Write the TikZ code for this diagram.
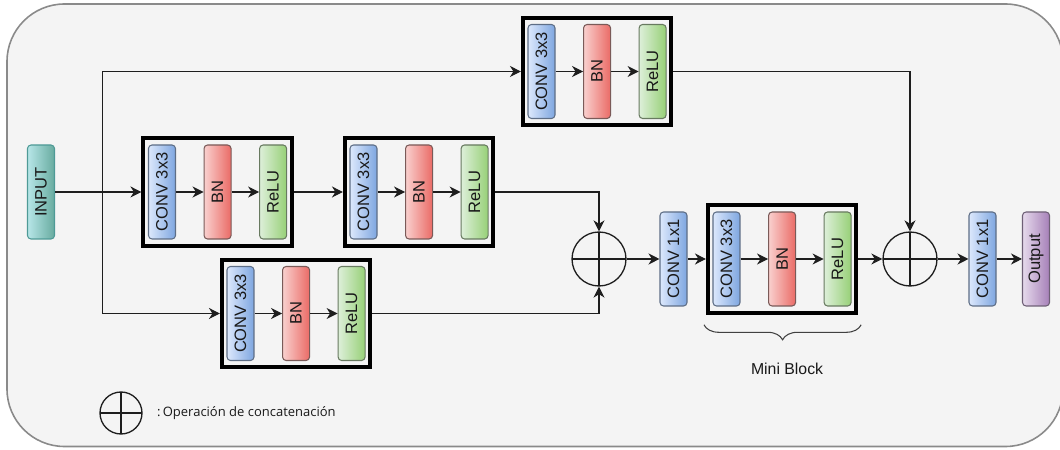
\documentclass[tikz,border=0pt]{standalone}
\usepackage{fontspec}
\setmainfont{Liberation Sans}
\newfontfamily\legendfont{Open Sans}
\usetikzlibrary{arrows.meta,positioning,fit,calc,decorations.pathreplacing}
\definecolor{bgFill}{HTML}{F4F4F4}
\definecolor{bgLine}{HTML}{8A8A8A}
\definecolor{convL}{HTML}{DCE8FC}
\definecolor{convR}{HTML}{7EA6E0}
\definecolor{convD}{HTML}{5E6E86}
\definecolor{bnL}{HTML}{F9D0CE}
\definecolor{bnR}{HTML}{EA6B66}
\definecolor{bnD}{HTML}{7A5A58}
\definecolor{reluL}{HTML}{DDEFD9}
\definecolor{reluR}{HTML}{97D077}
\definecolor{reluD}{HTML}{687A60}
\definecolor{inL}{HTML}{B8E6E8}
\definecolor{inR}{HTML}{67AB9F}
\definecolor{inD}{HTML}{4E9A96}
\definecolor{outL}{HTML}{E6DAEC}
\definecolor{outR}{HTML}{A680B8}
\definecolor{outD}{HTML}{6E5F76}
\definecolor{wire}{HTML}{1E1E1E}
\newcommand{\vtext}[1]{\rotatebox{90}{#1}}
\tikzset{
  layer/.style     ={draw,line width=0.6pt,rounded corners=2pt,
                     minimum width=5.4mm,minimum height=18.8mm,inner sep=0pt,
                     font=\fontsize{9.4}{11}\selectfont,text=black!90},
  conv/.style      ={layer,draw=convD,left color=convL,right color=convR},
  bn/.style        ={layer,draw=bnD,left color=bnL,right color=bnR},
  relu/.style      ={layer,draw=reluD,left color=reluL,right color=reluR},
  inbox/.style     ={layer,draw=inD,left color=inL,right color=inR},
  outbox/.style    ={layer,draw=outD,left color=outL,right color=outR},
  blockframe/.style={draw=black,line width=2.3pt,inner xsep=0.9mm,
                     inner ysep=1.25mm,fit=#1},
  flow/.style      ={-{Stealth[length=2.2mm,width=2.2mm,inset=0.7mm]},wire,
                     line width=0.6pt},
  cat/.style       ={circle,draw=wire,line width=0.75pt,minimum size=10.8mm,
                     inner sep=0pt,
                     path picture={\draw[wire,line width=0.75pt]
                       (path picture bounding box.north) -- (path picture bounding box.south)
                       (path picture bounding box.west) -- (path picture bounding box.east);}},
  lbl/.style       ={font=\fontsize{9}{11}\selectfont,text=black!90},
}
\begin{document}
\begin{tikzpicture}
\useasboundingbox (0,0) rectangle (21.2,8.98);
% panel
\filldraw[fill=bgFill,draw=bgLine,line width=0.9pt,rounded corners=11.5mm]
  (0.14,0.05) rectangle (21.26,8.9);

% input
\node[inbox] (inp) at (0.82,5.14) {\vtext{INPUT}};

% upper row: two blocks in series
\node[conv] (convA) at (3.24,5.14) {\vtext{CONV 3x3}};
\node[bn,right=5.5mm of convA] (bnA) {\vtext{BN}};
\node[relu,right=5.5mm of bnA] (reluA) {\vtext{ReLU}};
\node[blockframe={(convA)(reluA)}] (blkA) {};

\node[conv] (convB) at (7.27,5.14) {\vtext{CONV 3x3}};
\node[bn,right=5.5mm of convB] (bnB) {\vtext{BN}};
\node[relu,right=5.5mm of bnB] (reluB) {\vtext{ReLU}};
\node[blockframe={(convB)(reluB)}] (blkB) {};

% top branch
\node[conv] (convT) at (10.83,7.55) {\vtext{CONV 3x3}};
\node[bn,right=5.5mm of convT] (bnT) {\vtext{BN}};
\node[relu,right=5.5mm of bnT] (reluT) {\vtext{ReLU}};
\node[blockframe={(convT)(reluT)}] (blkTop) {};

% bottom branch
\node[conv] (convD) at (4.81,2.71) {\vtext{CONV 3x3}};
\node[bn,right=5.5mm of convD] (bnD) {\vtext{BN}};
\node[relu,right=5.5mm of bnD] (reluD) {\vtext{ReLU}};
\node[blockframe={(convD)(reluD)}] (blkBot) {};

% merge, 1x1 conv, mini block
\node[cat] (cat1) at (11.98,3.80) {};
\node[conv] (pwA) at (13.47,3.80) {\vtext{CONV 1x1}};
\node[conv] (convM) at (14.53,3.80) {\vtext{CONV 3x3}};
\node[bn,right=5.5mm of convM] (bnM) {\vtext{BN}};
\node[relu,right=5.5mm of bnM] (reluM) {\vtext{ReLU}};
\node[blockframe={(convM)(reluM)}] (blkMini) {};
\draw[decorate,decoration={brace,amplitude=3mm},wire!85,line width=0.6pt]
  ($(blkMini.south east)+(0.06,-0.2)$) -- ($(blkMini.south west)+(-0.04,-0.2)$);
\node[lbl] (miniLbl) at ($(blkMini.south)+(0.1,-1.08)$) {Mini Block};

% second merge and output
\node[cat] (cat2) at (18.20,3.80) {};
\node[conv] (pwB) at (19.65,3.80) {\vtext{CONV 1x1}};
\node[outbox] (outp) at (20.72,3.80) {\vtext{Output}};

% connectors
\coordinate (split) at ($(inp.east)+(9.4mm,0)$);
\draw[flow] (inp.east) -- (blkA.west);
\draw[flow] (split) |- (blkTop.west);
\draw[flow] (split) |- (blkBot.west);
\draw[flow] (blkA.east) -- (blkB.west);
\draw[flow] (blkB.east) -| (cat1.north);
\draw[flow] (blkBot.east) -| (cat1.south);
\draw[flow] (cat1.east) -- (pwA.west);
\draw[flow] (pwA.east) -- (blkMini.west);
\draw[flow] (blkMini.east) -- (cat2.west);
\draw[flow] (blkTop.east) -| (cat2.north);
\draw[flow] (cat2.east) -- (pwB.west);
\draw[flow] (pwB.east) -- (outp.west);
% inside the blocks
\draw[flow] (convA) -- (bnA);  \draw[flow] (bnA) -- (reluA);
\draw[flow] (convB) -- (bnB);  \draw[flow] (bnB) -- (reluB);
\draw[flow] (convT) -- (bnT);  \draw[flow] (bnT) -- (reluT);
\draw[flow] (convD) -- (bnD);  \draw[flow] (bnD) -- (reluD);
\draw[flow] (convM) -- (bnM);  \draw[flow] (bnM) -- (reluM);

% legend
\node[cat,minimum size=8.4mm] (key) at (2.42,0.72) {};
\node[anchor=west,font=\legendfont\fontsize{7.4}{9}\selectfont,text=black!90]
  (keyTxt) at (3.02,0.72) {:\,Operación de concatenación};
\end{tikzpicture}
\end{document}
